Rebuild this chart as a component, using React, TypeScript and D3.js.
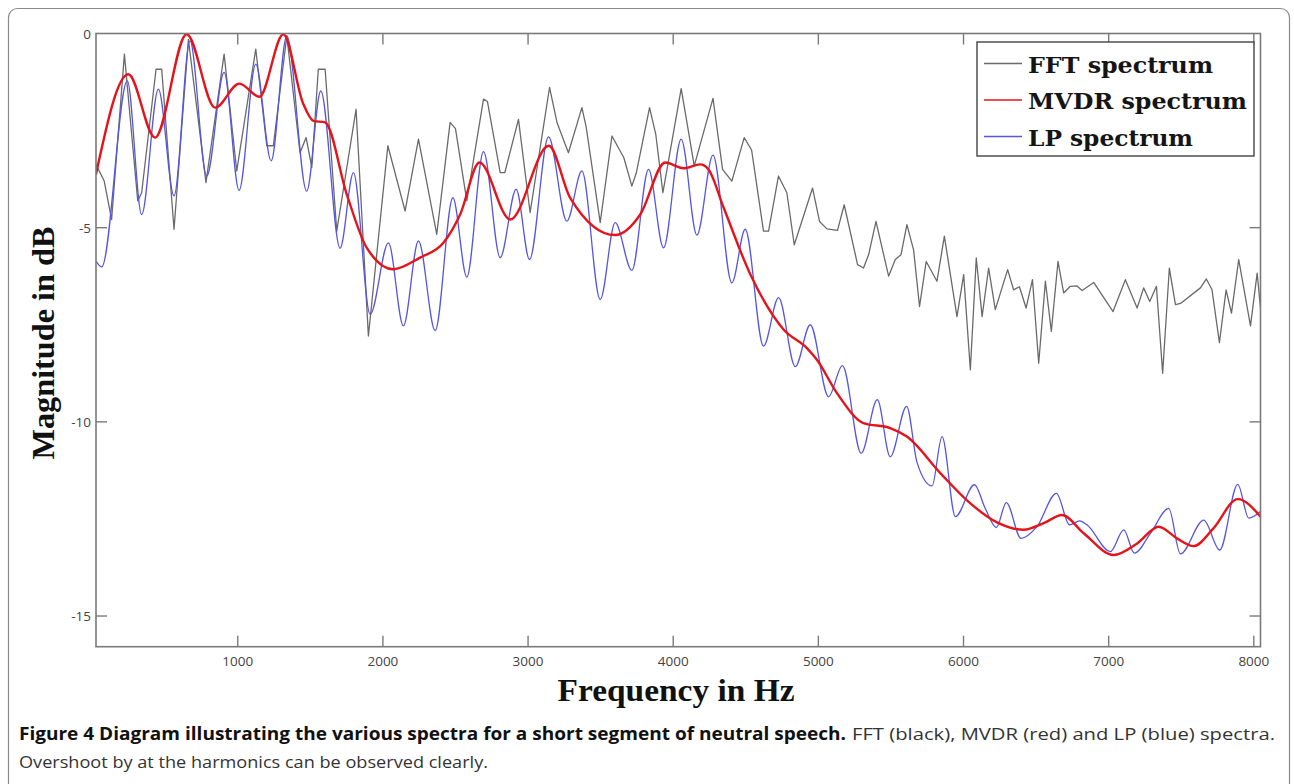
import React from 'react';
import * as d3 from 'd3';

// ---- data (frequency in Hz, magnitude in dB) ----
const xTicks = [1000, 2000, 3000, 4000, 5000, 6000, 7000, 8000];
const yTicks = [0, -5, -10, -15];
const legendLabels = ['FFT spectrum', 'MVDR spectrum', 'LP spectrum'];

const fftSpectrum: [number, number][] = [
  [23, -3.37], [80, -3.8], [131, -4.79], [219, -0.53], [311, -4.31], [338, -4.1], [437, -0.92], [476, -0.92],
  [561, -5.04], [660, -0.15], [781, -3.84], [906, -0.53], [993, -3.54], [1124, -0.4], [1200, -2.89], [1245, -2.89],
  [1338, -0.06], [1429, -3.07], [1471, -2.68], [1510, -3.45], [1555, -0.92], [1602, -0.92], [1682, -5.09],
  [1815, -1.95], [1900, -7.79], [2034, -2.89], [2153, -4.57], [2245, -2.72], [2371, -5.17], [2463, -2.29],
  [2500, -2.45], [2578, -4.31], [2693, -1.69], [2720, -1.75], [2808, -3.58], [2840, -3.58], [2934, -2.21],
  [3014, -4.61], [3148, -1.39], [3200, -2.3], [3278, -3.07], [3371, -1.91], [3400, -2.4], [3497, -4.87],
  [3578, -2.64], [3660, -3.2], [3715, -3.93], [3745, -3.6], [3837, -1.91], [3880, -2.6], [3929, -4.1],
  [4055, -1.42], [4145, -3.41], [4274, -1.67], [4340, -3.5], [4404, -3.8], [4489, -2.68], [4540, -3.0],
  [4622, -5.09], [4657, -5.09], [4725, -3.67], [4783, -4.1], [4834, -5.44], [4960, -3.98], [5008, -4.84],
  [5059, -5.03], [5132, -5.07], [5178, -4.41], [5270, -5.95], [5311, -6.04], [5346, -5.7], [5397, -4.84],
  [5484, -6.25], [5530, -5.82], [5569, -5.7], [5610, -4.92], [5656, -5.57], [5697, -7.03], [5743, -5.87],
  [5817, -6.38], [5868, -5.22], [5955, -7.29], [6001, -6.21], [6047, -8.66], [6088, -5.78], [6128, -7.29],
  [6173, -6.04], [6219, -7.11], [6304, -6.08], [6345, -6.6], [6385, -6.52], [6431, -7.07], [6475, -6.34],
  [6518, -8.49], [6564, -6.38], [6605, -7.67], [6651, -5.87], [6690, -6.68], [6736, -6.51], [6782, -6.5],
  [6817, -6.62], [6897, -6.41], [7030, -7.16], [7115, -6.34], [7196, -7.07], [7241, -6.55], [7283, -6.9],
  [7329, -6.51], [7372, -8.75], [7418, -6.04], [7460, -6.98], [7495, -6.95], [7632, -6.55], [7673, -6.32],
  [7712, -6.6], [7763, -7.96], [7809, -6.6], [7846, -7.2], [7896, -5.82], [7977, -7.53], [8023, -6.17],
  [8046, -7.07],
];

const mvdrSpectrum: [number, number][] = [
  [23, -3.63], [246, -1.05], [430, -2.68], [648, -0.02], [844, -1.91], [1011, -1.29], [1149, -1.63],
  [1314, -0.02], [1450, -1.8], [1521, -2.25], [1602, -2.29], [1751, -4.14], [1889, -5.52], [2072, -6.07],
  [2256, -5.77], [2417, -5.39], [2532, -4.66], [2665, -3.32], [2877, -4.79], [3143, -2.89], [3290, -4.23],
  [3600, -5.19], [3773, -4.66], [3945, -3.32], [4071, -3.47], [4186, -3.37], [4243, -3.5], [4347, -4.48],
  [4531, -6.2], [4760, -7.62], [4921, -8.1], [4990, -8.4], [5128, -9.26], [5311, -10.03], [5495, -10.16],
  [5610, -10.38], [5840, -11.32], [6047, -12.1], [6231, -12.59], [6414, -12.78], [6552, -12.61],
  [6679, -12.4], [6828, -12.87], [7034, -13.43], [7196, -13.13], [7345, -12.7], [7470, -13.0],
  [7586, -13.2], [7720, -12.75], [7889, -11.99], [8046, -12.44],
];

const lpSpectrum: [number, number][] = [
  [23, -5.86], [63, -6.01], [239, -1.22], [338, -4.66], [453, -1.43], [561, -4.18], [671, -0.19],
  [786, -3.67], [906, -1.0], [1009, -4.04], [1124, -0.79], [1230, -3.28], [1338, -0.06], [1475, -4.06],
  [1572, -1.48], [1705, -5.53], [1797, -3.58], [1912, -7.23], [2038, -5.39], [2141, -7.53], [2245, -5.34],
  [2360, -7.65], [2482, -4.23], [2578, -6.27], [2693, -3.04], [2808, -5.77], [2918, -4.01], [3010, -5.82],
  [3141, -2.66], [3267, -4.83], [3371, -3.54], [3497, -6.85], [3600, -4.87], [3715, -6.1], [3830, -3.5],
  [3933, -5.52], [4055, -2.72], [4163, -5.19], [4274, -3.13], [4404, -6.42], [4496, -5.04], [4622, -8.05],
  [4726, -6.8], [4841, -8.58], [4944, -7.5], [5070, -9.35], [5166, -8.55], [5295, -10.81], [5406, -9.43],
  [5495, -10.9], [5608, -9.6], [5680, -11.05], [5783, -11.65], [5852, -10.38], [5944, -12.44],
  [6075, -11.62], [6150, -12.23], [6226, -12.72], [6295, -12.08], [6396, -13.0], [6506, -12.7],
  [6640, -11.84], [6730, -12.65], [6800, -12.55], [6850, -12.65], [7012, -13.34], [7104, -12.78],
  [7177, -13.38], [7288, -12.87], [7414, -12.23], [7494, -13.4], [7655, -12.53], [7765, -13.3],
  [7889, -11.61], [7965, -12.48], [8046, -12.31],
];

const seriesColors = { fft: '#6a6a6a', mvdr: '#e5141b', lp: '#5656de' };

export default function App() {
  const W = 1294;
  const H = 784;
  const left = 96;
  const right = 1260.5;
  const top = 33.5;
  const bottom = 646.7;

  const x = d3.scaleLinear().domain([23.4, 8046]).range([left, right]);
  const y = d3.scaleLinear().domain([0, -15.79]).range([top, bottom]);

  const linear = d3.line<[number, number]>().x(d => x(d[0])).y(d => y(d[1]));
  const smooth = d3
    .line<[number, number]>()
    .x(d => x(d[0]))
    .y(d => y(d[1]))
    .curve(d3.curveMonotoneX);

  const tickLen = 11;
  const axisColor = '#7a7a7a';
  const serif = '"Liberation Serif", "Times New Roman", serif';
  const sans = '"Open Sans", "Noto Sans", sans-serif';
  const captionFont = '"Liberation Sans Narrow", "Open Sans", sans-serif';

  const legendX = 977;
  const legendY = 42;
  const legendW = 277;
  const legendH = 114;
  const legendRows = [
    { label: legendLabels[0], color: seriesColors.fft, w: 185 },
    { label: legendLabels[1], color: seriesColors.mvdr, w: 219 },
    { label: legendLabels[2], color: seriesColors.lp, w: 165 },
  ];

  return (
    <svg
      width={W}
      height={H}
      style={{ position: 'fixed', left: 0, top: 0, background: '#fff' }}
    >
      <rect x={0} y={0} width={W} height={H} fill="#fff" />
      <rect x={8.5} y={8.5} width={1281} height={820} rx={9} fill="none" stroke="#8a8a8a" strokeWidth={1.2} />

      <defs>
        <clipPath id="plotClip">
          <rect x={left} y={top - 1} width={right - left} height={bottom - top + 1} />
        </clipPath>
      </defs>

      {/* series */}
      <g clipPath="url(#plotClip)" fill="none" strokeLinejoin="round">
        <path d={linear(fftSpectrum) || ''} stroke={seriesColors.fft} strokeWidth={1.3} />
        <path d={smooth(lpSpectrum) || ''} stroke={seriesColors.lp} strokeWidth={1.3} />
        <path d={smooth(mvdrSpectrum) || ''} stroke={seriesColors.mvdr} strokeWidth={2.4} />
      </g>

      {/* frame */}
      <rect x={left} y={top} width={right - left} height={bottom - top} fill="none" stroke={axisColor} strokeWidth={1.6} />

      {/* x ticks */}
      {xTicks.map(t => (
        <g key={'x' + t}>
          <line x1={x(t)} x2={x(t)} y1={bottom} y2={bottom - tickLen} stroke={axisColor} strokeWidth={1.4} />
          <line x1={x(t)} x2={x(t)} y1={top} y2={top + tickLen} stroke={axisColor} strokeWidth={1.4} />
          <text x={x(t)} y={666} textAnchor="middle" fontFamily={sans} fontSize={13.5} fill="#444">
            {t}
          </text>
        </g>
      ))}

      {/* y ticks */}
      {yTicks.map(t => (
        <g key={'y' + t}>
          {t !== 0 && (
            <>
              <line x1={left} x2={left + tickLen} y1={y(t)} y2={y(t)} stroke={axisColor} strokeWidth={1.4} />
              <line x1={right} x2={right - tickLen} y1={y(t)} y2={y(t)} stroke={axisColor} strokeWidth={1.4} />
            </>
          )}
          <text x={91} y={y(t) + 5} textAnchor="end" fontFamily={sans} fontSize={13.5} fill="#444">
            {t}
          </text>
        </g>
      ))}

      {/* axis titles */}
      <text
        x={676}
        y={701}
        textAnchor="middle"
        fontFamily={serif}
        fontWeight="bold"
        fontSize={31}
        fill="#111"
        textLength={237}
        lengthAdjust="spacingAndGlyphs"
      >
        Frequency in Hz
      </text>
      <text
        transform={`translate(54, ${343}) rotate(-90)`}
        textAnchor="middle"
        fontFamily={serif}
        fontWeight="bold"
        fontSize={31}
        fill="#111"
        textLength={233}
        lengthAdjust="spacingAndGlyphs"
      >
        Magnitude in dB
      </text>

      {/* legend */}
      <rect x={legendX} y={legendY} width={legendW} height={legendH} fill="#fff" stroke="#444" strokeWidth={1.4} />
      {legendRows.map((r, i) => {
        const cy = 63.5 + i * 36.5;
        return (
          <g key={r.label}>
            <line x1={984} x2={1022} y1={cy} y2={cy} stroke={r.color} strokeWidth={1.6} />
            <text
              x={1028}
              y={cy + 9}
              fontFamily={'"DejaVu Serif", serif'}
              fontWeight="bold"
              fontSize={23}
              fill="#151515"
              textLength={r.w}
              lengthAdjust="spacingAndGlyphs"
            >
              {r.label}
            </text>
          </g>
        );
      })}

      {/* caption */}
      <text x={19} y={740} fontFamily={captionFont} fontWeight="bold" fontSize={17} fill="#111" textLength={827} lengthAdjust="spacingAndGlyphs">
        Figure 4 Diagram illustrating the various spectra for a short segment of neutral speech.
      </text>
      <text x={852} y={740} fontFamily={captionFont} fontSize={17} fill="#333" textLength={423} lengthAdjust="spacingAndGlyphs">
        FFT (black), MVDR (red) and LP (blue) spectra.
      </text>
      <text x={19} y={768} fontFamily={captionFont} fontSize={17} fill="#333" textLength={469} lengthAdjust="spacingAndGlyphs">
        Overshoot by at the harmonics can be observed clearly.
      </text>
    </svg>
  );
}
